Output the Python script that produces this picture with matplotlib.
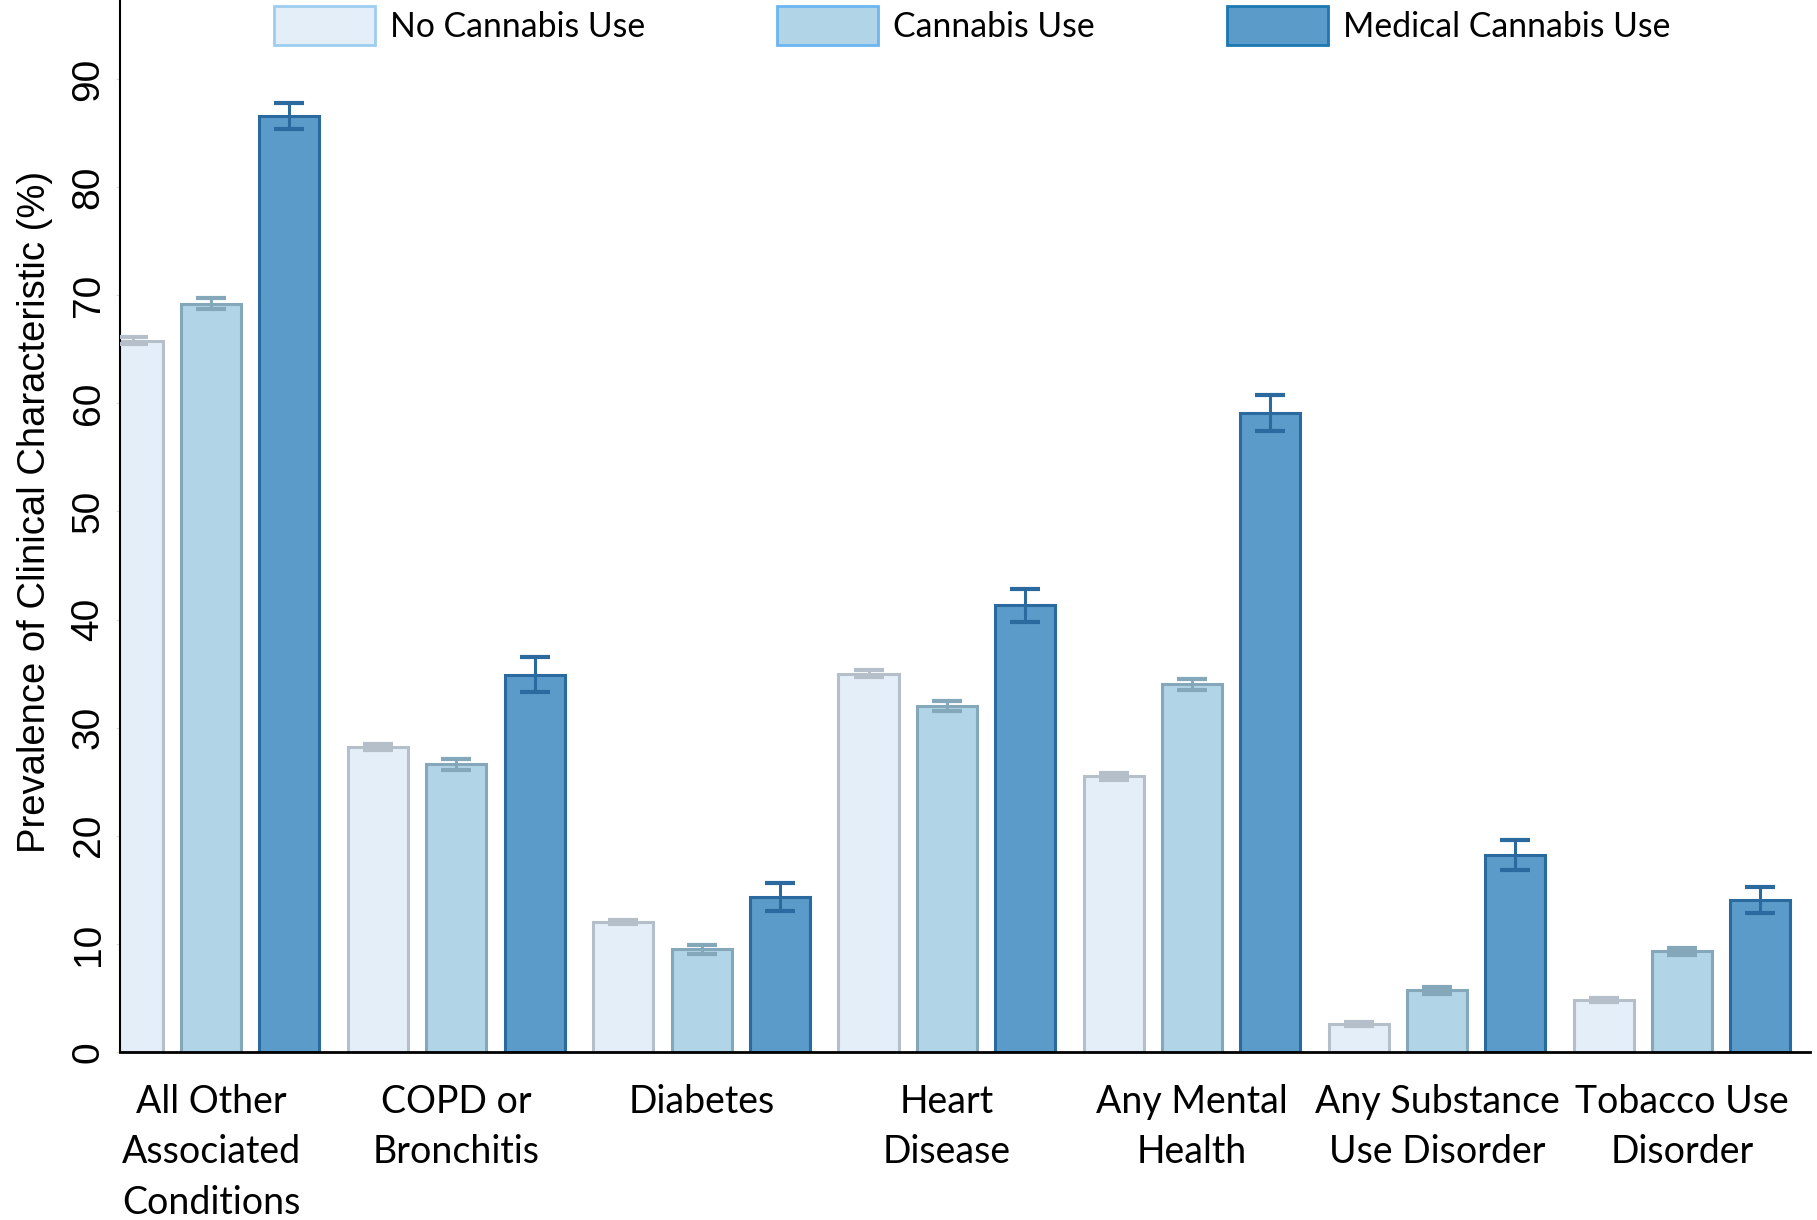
import matplotlib
matplotlib.use("Agg")
import matplotlib.pyplot as plt
import numpy as np
from matplotlib.patches import Patch

categories = ["All Other\nAssociated\nConditions", "COPD or\nBronchitis", "Diabetes",
              "Heart\nDisease", "Any Mental\nHealth", "Any Substance\nUse Disorder",
              "Tobacco Use\nDisorder"]
series_names = ["No Cannabis Use", "Cannabis Use", "Medical Cannabis Use"]
no_use = [65.8, 28.2, 12.0, 35.0, 25.5, 2.6, 4.8]
no_use_err = [0.3, 0.3, 0.2, 0.3, 0.3, 0.2, 0.2]
cannabis = [69.2, 26.6, 9.5, 32.0, 34.0, 5.7, 9.3]
cannabis_err = [0.5, 0.5, 0.4, 0.5, 0.5, 0.3, 0.3]
medical = [86.6, 34.9, 14.3, 41.3, 59.1, 18.2, 14.1]
medical_err = [1.2, 1.6, 1.3, 1.5, 1.7, 1.4, 1.2]
yticks = [0, 10, 20, 30, 40, 50, 60, 70, 80, 90]

fills = ["#e4eef8", "#b2d4e7", "#5b9bc9"]
edges = ["#b4bfca", "#85a7ba", "#2b6a9e"]
leg_edges = ["#9dcdf0", "#6bb6f2", "#1b78b0"]

fig = plt.figure(figsize=(18.17, 12.2), dpi=100)
ax = fig.add_axes([0.0663, 0.1377, 0.9297, 0.8623])

x = np.arange(len(categories))
pitch = 0.319
width = 0.245
data = [(no_use, no_use_err), (cannabis, cannabis_err), (medical, medical_err)]
for i, (vals, errs) in enumerate(data):
    pos = x + (i - 1) * pitch
    ax.bar(pos, vals, width=width, color=fills[i], edgecolor=edges[i], linewidth=2.2, zorder=2)
    ax.errorbar(pos, vals, yerr=errs, fmt="none", ecolor=edges[i], elinewidth=2.2,
                capsize=11, capthick=3.0, zorder=3)

ax.set_xlim(-0.37, 6.52)
ax.set_ylim(0, 97.3)
ax.set_yticks(yticks)
ax.set_yticklabels([str(t) for t in yticks], rotation=90, va="center",
                   fontsize=28, family="Liberation Sans")
ax.tick_params(axis="y", length=3, color="#dddddd", pad=7)
ax.set_xticks(x)
ax.set_xticklabels(categories, fontsize=27, family="Lato", linespacing=1.5)
ax.tick_params(axis="x", length=0, pad=23)
ax.set_ylabel("Prevalence of Clinical Characteristic (%)", fontsize=27.5,
              family="Liberation Sans", labelpad=13)
ax.yaxis.label.set_y(0.513)
for s in ["top", "right"]:
    ax.spines[s].set_visible(False)
ax.spines["left"].set_linewidth(1.5)
ax.spines["bottom"].set_linewidth(2.0)

handles = [Patch(facecolor=fills[i], edgecolor=leg_edges[i], linewidth=2) for i in range(3)]
fig.legend(handles, series_names, loc="center", bbox_to_anchor=(0.535, 0.9787), ncol=3,
           frameon=False, prop={"family": "Lato", "size": 24.3}, handlelength=3.0,
           handleheight=1.4, columnspacing=3.9, handletextpad=0.45, borderpad=0.2)

fig.savefig("out.png", dpi=100)
